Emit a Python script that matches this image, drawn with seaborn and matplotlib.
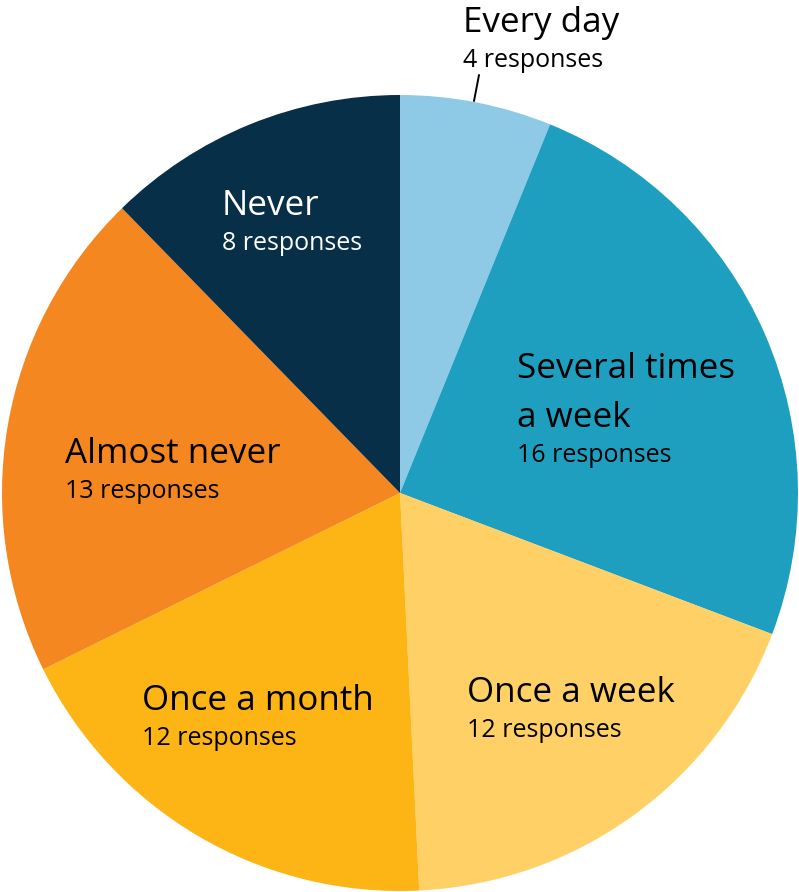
import matplotlib.pyplot as plt
import seaborn as sns

# survey answers, clockwise from the top
categories = ['Every day', 'Several times\na week', 'Once a week',
              'Once a month', 'Almost never', 'Never']
responses = [4, 16, 12, 12, 13, 8]
colors = ['#8ecae6', '#1f9fbf', '#fed066', '#fcb515', '#f58720', '#072f47']
text_colors = ['black', 'black', 'black', 'black', 'black', 'white']

# label anchors in image pixels (left edge, baseline of the title line)
label_px = [(463, 32), (517, 378), (467, 702), (142, 710), (65, 463), (222, 215)]

W, H = 799, 892
CX, CY, R = 400, 493, 398

sns.set_style('white')
plt.rcParams['font.family'] = ['Open Sans', 'DejaVu Sans']

fig = plt.figure(figsize=(W / 100, H / 100), dpi=100)
ax = fig.add_axes([0, 0, 1, 1])

ax.pie(responses, colors=colors, startangle=90, counterclock=False,
       radius=1, wedgeprops=dict(linewidth=0))

def to_data(px, py):
    return (px - CX) / R, (CY - py) / R

big = 25.2
small = 18
line_big = 49 / R
gap_small = 35 / R

for cat, n, (px, py), tc in zip(categories, responses, label_px, text_colors):
    x, y = to_data(px, py)
    lines = cat.split('\n')
    for i, ln in enumerate(lines):
        ax.text(x, y - i * line_big, ln, fontsize=big, color=tc,
                ha='left', va='baseline')
    y_small = y - (len(lines) - 1) * line_big - gap_small
    ax.text(x, y_small, f'{n} responses', fontsize=small, color=tc,
            ha='left', va='baseline')

# leader line for the thin slice
x0, y0 = to_data(479, 75)
x1, y1 = to_data(474, 101)
ax.plot([x0, x1], [y0, y1], color='black', lw=1.4)

ax.set_xlim(-CX / R, (W - CX) / R)
ax.set_ylim(-(H - CY) / R, CY / R)
ax.set_aspect('auto')
ax.axis('off')

fig.savefig('out.png', dpi=100, facecolor='white')
